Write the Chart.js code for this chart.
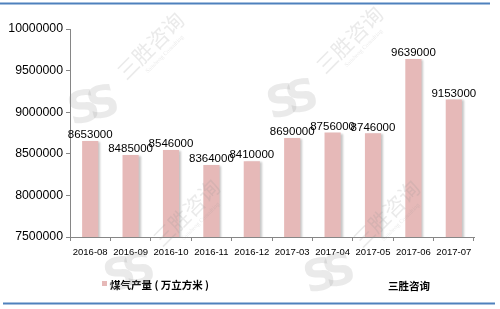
<!DOCTYPE html>
<html>
<head>
<meta charset="utf-8">
<script src="https://cdn.jsdelivr.net/npm/chart.js@4"></script>
<style>
  html, body { margin: 0; padding: 0; background: #fff; }
  #wrap { width: 500px; height: 309px; position: relative; }
</style>
</head>
<body>
<div id="wrap"><canvas id="c" width="500" height="309"></canvas></div>
<script>
// Monthly gas output (10,000 m³)
const months = ['2016-08', '2016-09', '2016-10', '2016-11', '2016-12',
                '2017-03', '2017-04', '2017-05', '2017-06', '2017-07'];
const gasOutput = [8653000, 8485000, 8546000, 8364000, 8410000,
                   8690000, 8756000, 8746000, 9639000, 9153000];
const seriesName = '煤气产量 ( 万立方米 )';
const brandName = '三胜咨询';
const yTicks = [7500000, 8000000, 8500000, 9000000, 9500000, 10000000];

const BAR = '#E6B9B8';
const BLUE = '#4F81BD';
const AXIS = '#868686';

// soft drop shadow on the right side of each bar
const barShadow = {
  id: 'barShadow',
  beforeDatasetDraw(chart) {
    const ctx = chart.ctx;
    ctx.save();
    ctx.shadowColor = 'rgba(0,0,0,0.22)';
    ctx.shadowOffsetX = 2;
    ctx.shadowOffsetY = 1;
    ctx.shadowBlur = 2;
  },
  afterDatasetDraw(chart) {
    chart.ctx.restore();
  }
};

// value labels above the bars
const valueLabels = {
  id: 'valueLabels',
  afterDatasetsDraw(chart) {
    const ctx = chart.ctx;
    const meta = chart.getDatasetMeta(0);
    const data = chart.data.datasets[0].data;
    ctx.save();
    ctx.font = '11.5px "Liberation Sans", Arial, sans-serif';
    ctx.fillStyle = '#000';
    ctx.textAlign = 'center';
    ctx.textBaseline = 'middle';
    meta.data.forEach((bar, i) => {
      ctx.fillText(String(data[i]), bar.x, bar.y - 6);
    });
    ctx.restore();
  }
};

// frame lines, legend, brand text and watermark
const decor = {
  id: 'decor',
  beforeDraw(chart) {
    const ctx = chart.ctx;
    ctx.save();
    ctx.fillStyle = '#fff';
    ctx.fillRect(0, 0, chart.width, chart.height);
    ctx.restore();
  },
  afterDraw(chart) {
    const ctx = chart.ctx;
    ctx.save();
    // blue rules
    ctx.strokeStyle = BLUE;
    ctx.lineWidth = 2;
    ctx.beginPath();
    ctx.moveTo(0, 3.5); ctx.lineTo(490, 3.5);
    ctx.moveTo(3, 303.5); ctx.lineTo(495, 303.5);
    ctx.stroke();

    // legend
    ctx.fillStyle = BAR;
    ctx.fillRect(102, 281, 5, 5);
    ctx.fillStyle = '#000';
    ctx.font = 'bold 10.5px "Noto Sans CJK SC", sans-serif';
    ctx.textBaseline = 'middle';
    ctx.textAlign = 'left';
    ctx.fillText(chart.data.datasets[0].label, 110, 285.5);
    ctx.fillText(brandName, 388, 286.5);

    // watermark: "SS" mark with the brand name running up to the right
    const marks = [[94, 108], [293, 102], [130, 275], [330, 276]];
    marks.forEach(([x, y]) => {
      ctx.save();
      ctx.fillStyle = 'rgba(150,150,150,0.2)';
      ctx.translate(x, y);
      ctx.textAlign = 'center';
      ctx.textBaseline = 'middle';
      ctx.save();
      ctx.rotate(-0.25);
      ctx.font = 'bold 44px "DejaVu Sans", sans-serif';
      ctx.fillText('S', -10, 0);
      ctx.fillText('S', 10, 0);
      ctx.restore();
      ctx.rotate(-Math.PI / 4);
      ctx.font = '21px "Noto Sans CJK SC", sans-serif';
      ctx.fillText(brandName, 84, -4);
      ctx.font = '6px "Liberation Serif", serif';
      ctx.fillText('Sansheng Consulting', 88, 12);
      ctx.restore();
    });
    ctx.restore();
  }
};

new Chart(document.getElementById('c'), {
  type: 'bar',
  data: {
    labels: months,
    datasets: [{
      label: seriesName,
      data: gasOutput,
      backgroundColor: BAR,
      borderWidth: 0,
      barPercentage: 0.8,
      categoryPercentage: 0.5
    }]
  },
  options: {
    responsive: false,
    animation: false,
    devicePixelRatio: 1,
    layout: { padding: { top: 29, right: 26, bottom: 0, left: 0 } },
    plugins: {
      legend: { display: false },
      tooltip: { enabled: false }
    },
    scales: {
      x: {
        grid: {
          offset: true,
          drawOnChartArea: false,
          tickLength: 4,
          color: AXIS
        },
        border: { color: AXIS, width: 1 },
        ticks: {
          color: '#000',
          padding: 6,
          maxRotation: 0,
          font: { family: '"Liberation Sans", Arial, sans-serif', size: 9.5 }
        },
        afterFit(scale) { scale.height = 72; }
      },
      y: {
        min: yTicks[0],
        max: yTicks[yTicks.length - 1],
        afterBuildTicks(scale) {
          scale.ticks = yTicks.map(v => ({ value: v }));
        },
        grid: {
          drawOnChartArea: false,
          tickLength: 4,
          color: AXIS
        },
        border: { color: AXIS, width: 1 },
        ticks: {
          color: '#000',
          padding: 3,
          font: { family: '"Liberation Sans", Arial, sans-serif', size: 12.3 },
          callback: v => String(v)
        },
        afterFit(scale) { scale.width = 70; }
      }
    }
  },
  plugins: [decor, barShadow, valueLabels]
});
</script>
</body>
</html>
